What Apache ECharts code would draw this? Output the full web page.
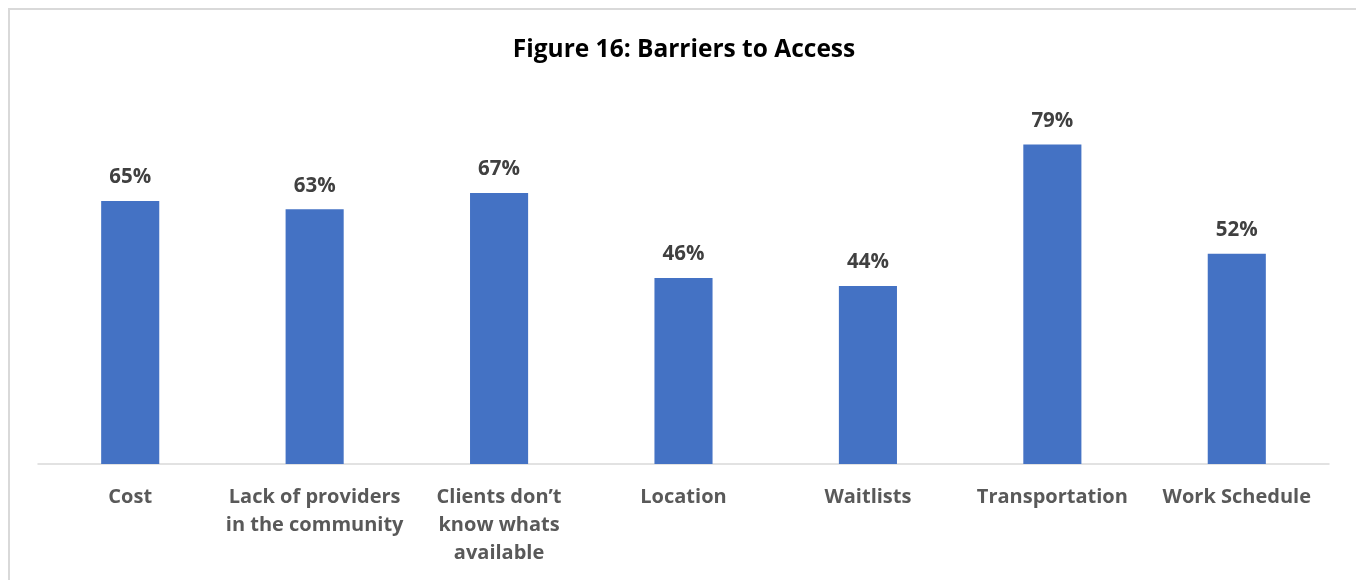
<!DOCTYPE html>
<html>
<head>
<meta charset="utf-8">
<script src="https://cdn.jsdelivr.net/npm/echarts@6/dist/echarts.min.js"></script>
<style>
  html, body { margin: 0; padding: 0; background: #fff; }
  #chart { width: 1356px; height: 580px; }
</style>
</head>
<body>
<div id="chart"></div>
<script>
// Survey responses: share of respondents naming each barrier (%)
const titleText = 'Figure 16: Barriers to Access';
const categories = [
  'Cost',
  'Lack of providers\nin the community',
  'Clients don\u2019t\nknow whats\navailable',
  'Location',
  'Waitlists',
  'Transportation',
  'Work Schedule'
];
const values = [65, 63, 67, 46, 44, 79, 52];

const FONT = '"Open Sans", Lato, "DejaVu Sans", sans-serif';

const chart = echarts.init(document.getElementById('chart'), null, { renderer: 'canvas' });

chart.setOption({
  backgroundColor: '#ffffff',
  animation: false,
  title: {
    text: titleText,
    left: 679,
    textAlign: 'center',
    top: 32,
    textStyle: {
      fontFamily: FONT,
      fontWeight: 'bold',
      fontSize: 24.5,
      lineHeight: 26,
      color: '#000000'
    }
  },
  graphic: [{
    type: 'rect',
    shape: { x: 9, y: 9, width: 1400, height: 700 },
    style: { fill: 'none', stroke: '#d9d9d9', lineWidth: 2 },
    silent: true
  }],
  grid: { left: 38, right: 27, top: 59.5, bottom: 116, containLabel: false },
  xAxis: {
    type: 'category',
    data: categories,
    axisLine: { show: true, lineStyle: { color: '#d9d9d9', width: 1.5 } },
    axisTick: { show: false },
    axisLabel: {
      interval: 0,
      margin: 19,
      fontFamily: FONT,
      fontWeight: 'bold',
      fontSize: 20,
      lineHeight: 28,
      color: '#595959'
    }
  },
  yAxis: {
    type: 'value',
    min: 0,
    max: 100,
    show: false,
    splitLine: { show: false }
  },
  series: [{
    type: 'bar',
    data: values,
    barWidth: '31.5%',
    itemStyle: { color: '#4472C4' },
    label: {
      show: true,
      position: 'top',
      distance: 13,
      formatter: '{c}%',
      fontFamily: FONT,
      fontWeight: 'bold',
      fontSize: 20.5,
      color: '#404040'
    }
  }]
});
</script>
</body>
</html>
